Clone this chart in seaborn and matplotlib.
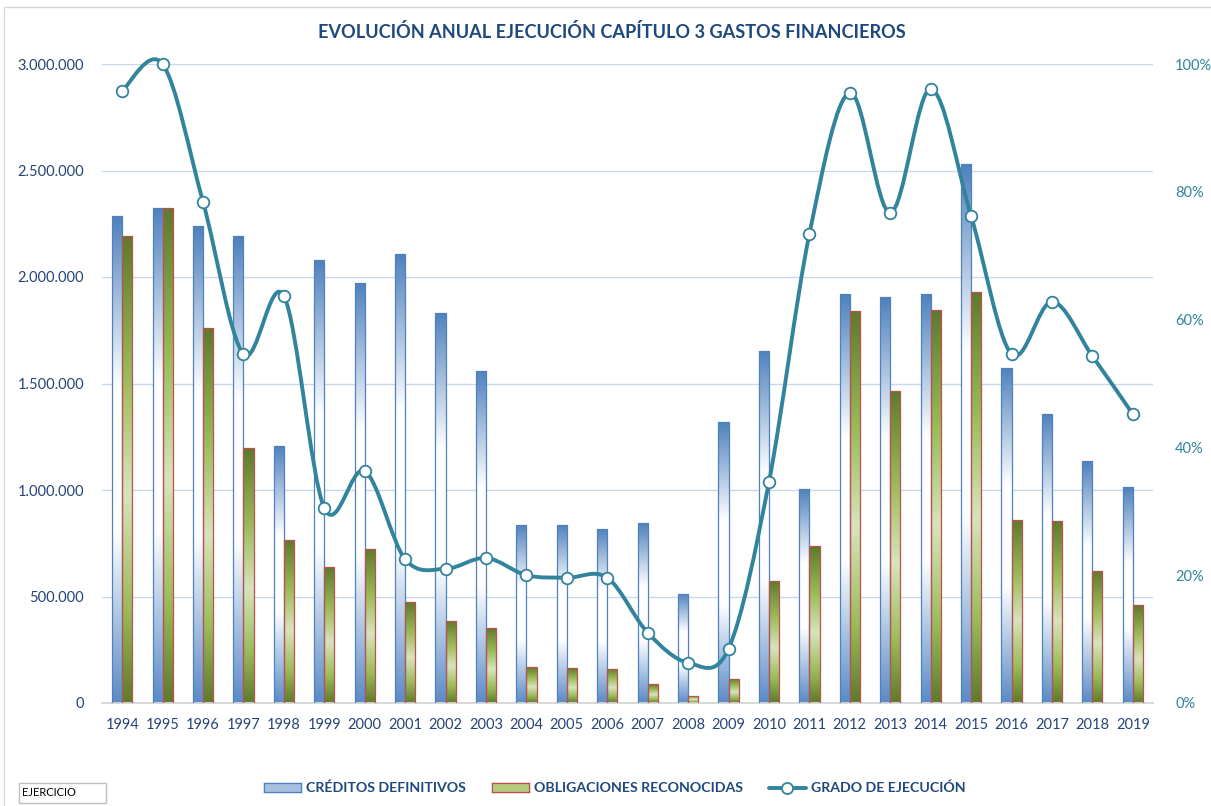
import numpy as np
import pandas as pd
import matplotlib
matplotlib.use("Agg")
import matplotlib.pyplot as plt
import seaborn as sns
from matplotlib.colors import LinearSegmentedColormap
from matplotlib.patches import Rectangle, PathPatch
from matplotlib.path import Path
from matplotlib.lines import Line2D
from matplotlib.ticker import FuncFormatter, PercentFormatter

# datos
years = [str(y) for y in range(1994, 2020)]
creditos = [2286000, 2324000, 2239000, 2192000, 1207000, 2080000, 1972000, 2108000,
            1831000, 1559000, 836000, 836000, 817000, 845000, 512000, 1319000,
            1653000, 1005000, 1920000, 1906000, 1920000, 2531000, 1573000, 1357000,
            1136000, 1014000]
obligaciones = [2192000, 2324000, 1760000, 1197000, 765000, 638000, 723000, 474000,
                385000, 352000, 169000, 164000, 160000, 89000, 33000, 113000,
                573000, 737000, 1840000, 1465000, 1845000, 1930000, 859000, 854000,
                620000, 460000]
grado = [0.958, 1.0, 0.784, 0.546, 0.637, 0.305, 0.363, 0.225, 0.210, 0.227,
         0.200, 0.196, 0.196, 0.110, 0.063, 0.085, 0.346, 0.734, 0.955, 0.767,
         0.961, 0.762, 0.546, 0.628, 0.543, 0.452]

lbl_cred = "CRÉDITOS DEFINITIVOS"
lbl_obl = "OBLIGACIONES RECONOCIDAS"
lbl_grado = "GRADO DE EJECUCIÓN"

DARK = "#264478"
TEAL = "#31849B"
BLUE = "#4F81BD"
RED_EDGE = "#C0504D"

blue_cmap = LinearSegmentedColormap.from_list(
    "azul", [(0, BLUE), (0.35, "white"), (0.65, "white"), (1, "#5A8AC6")])
green_cmap = LinearSegmentedColormap.from_list(
    "verde", [(0, "#5E7A2B"), (0.3, "#9BBB59"), (0.55, "#D8E4BC"),
              (0.8, "#9BBB59"), (1, "#5E7A2B")])

sns.set_theme(style="white")
plt.rcParams["font.family"] = ["Lato", "DejaVu Sans"]

fig = plt.figure(figsize=(12.11, 8.06), dpi=100)
ax = fig.add_axes([102 / 1211, 103 / 806, 1051 / 1211, 639 / 806])

n = len(years)
df = pd.DataFrame({
    "year": years * 2,
    "importe": creditos + obligaciones,
    "serie": [lbl_cred] * n + [lbl_obl] * n,
})
sns.barplot(data=df, x="year", y="importe", hue="serie",
            palette=[BLUE, "#9BBB59"], width=0.5, gap=0, dodge=True,
            legend=False, ax=ax)

# relleno degradado en cada barra
grad = np.linspace(0, 1, 256).reshape(-1, 1)
for cont, cmap, edge in [(ax.containers[0], blue_cmap, BLUE),
                         (ax.containers[1], green_cmap, RED_EDGE)]:
    for p in cont:
        x0, w, h = p.get_x(), p.get_width(), p.get_height()
        p.set_facecolor("none")
        p.set_edgecolor(edge)
        p.set_linewidth(0.9)
        p.set_zorder(3)
        im = ax.imshow(grad, cmap=cmap, aspect="auto", origin="upper",
                       extent=[x0, x0 + w, 0, h], zorder=2.5)
        im.set_clip_path(p)

ax.set_xlim(-0.5, n - 0.5)
ax.set_ylim(0, 3000000)
ax.set_yticks(np.arange(0, 3000001, 500000))
ax.yaxis.set_major_formatter(FuncFormatter(lambda v, _: f"{v:,.0f}".replace(",", ".")))
ax.yaxis.grid(True, color="#C9D7EC", lw=1)
ax.set_axisbelow(True)
for s in ["top", "left", "right"]:
    ax.spines[s].set_visible(False)
ax.spines["bottom"].set_color("#D9D9D9")
ax.spines["bottom"].set_linewidth(1.5)
ax.set_xlabel("")
ax.set_ylabel("")
ax.tick_params(axis="y", length=0, pad=13, labelsize=10.5, labelcolor=DARK)
ax.tick_params(axis="x", length=0, pad=11, labelsize=10.5, labelcolor=DARK)

# eje secundario: grado de ejecucion con linea suavizada (bezier tipo Excel)
ax2 = ax.twinx()
ax2.set_ylim(0, 1)
ax2.set_yticks(np.arange(0, 1.01, 0.2))
ax2.yaxis.set_major_formatter(PercentFormatter(1.0, decimals=0))
ax2.tick_params(axis="y", length=0, pad=16, labelsize=10.5, labelcolor=TEAL)
ax2.grid(False)
for s in ax2.spines.values():
    s.set_visible(False)

xs = np.arange(n, dtype=float)
ys = np.array(grado)
verts = [(xs[0], ys[0])]
codes = [Path.MOVETO]
for i in range(n - 1):
    i0, i3 = max(i - 1, 0), min(i + 2, n - 1)
    c1 = (xs[i] + (xs[i + 1] - xs[i0]) / 6, ys[i] + (ys[i + 1] - ys[i0]) / 6)
    c2 = (xs[i + 1] - (xs[i3] - xs[i]) / 6, ys[i + 1] - (ys[i3] - ys[i]) / 6)
    verts += [c1, c2, (xs[i + 1], ys[i + 1])]
    codes += [Path.CURVE4] * 3
curve = PathPatch(Path(verts, codes), fill=False, ec=TEAL, lw=2.8,
                  capstyle="round", clip_on=False, zorder=4)
ax2.add_patch(curve)
sns.scatterplot(x=xs, y=ys, ax=ax2, s=70, color="white", edgecolor=TEAL,
                linewidth=1.3, zorder=5, clip_on=False, legend=False)

# titulo
fig.text(612 / 1211, 1 - 32 / 806, "EVOLUCIÓN ANUAL EJECUCIÓN CAPÍTULO 3 GASTOS FINANCIEROS",
         ha="center", va="center", fontsize=13.1, fontweight="bold", color="#1F497D")

# leyenda
handles = [Rectangle((0, 0), 1, 1, fc="#A7C0E0", ec=BLUE, lw=0.9),
           Rectangle((0, 0), 1, 1, fc="#B5CC80", ec=RED_EDGE, lw=0.9),
           Line2D([], [], color=TEAL, lw=2.8, marker="o", ms=8, mfc="white",
                  mec=TEAL, mew=1.3)]
leg = fig.legend(handles, [lbl_cred, lbl_obl, lbl_grado], loc="center",
                 bbox_to_anchor=(615 / 1211, 1 - 788 / 806), ncol=3, frameon=False,
                 handlelength=2.6, handleheight=0.6, handletextpad=0.4,
                 columnspacing=1.8, prop={"weight": "bold", "size": 10.2})
for t in leg.get_texts():
    t.set_color("#1F497D")

fig.canvas.draw()
hgrad = np.linspace(0, 1, 128).reshape(1, -1)
for h, cmap, edge in [(leg.legend_handles[0], blue_cmap, BLUE),
                      (leg.legend_handles[1], green_cmap, RED_EDGE)]:
    bb = h.get_window_extent().transformed(fig.transFigure.inverted())
    sw = fig.add_axes([bb.x0, bb.y0, bb.width, bb.height])
    sw.imshow(hgrad, cmap=cmap, aspect="auto")
    sw.set_xticks([])
    sw.set_yticks([])
    for s in sw.spines.values():
        s.set_color(edge)
        s.set_linewidth(0.9)

# recuadro EJERCICIO y borde del grafico
fig.patches.append(Rectangle((19 / 1211, 3 / 806), 87 / 1211, 20 / 806,
                             transform=fig.transFigure, fill=False, ec="#BFBFBF", lw=1))
fig.text(22 / 1211, 13 / 806, "EJERCICIO", ha="left", va="center", fontsize=8, color="black")
fig.patches.append(Rectangle((4 / 1211, -0.1), 1.2, 1.1 - 7 / 806,
                             transform=fig.transFigure, fill=False, ec="#D9D9D9", lw=1))

fig.savefig("out.png", dpi=100)
